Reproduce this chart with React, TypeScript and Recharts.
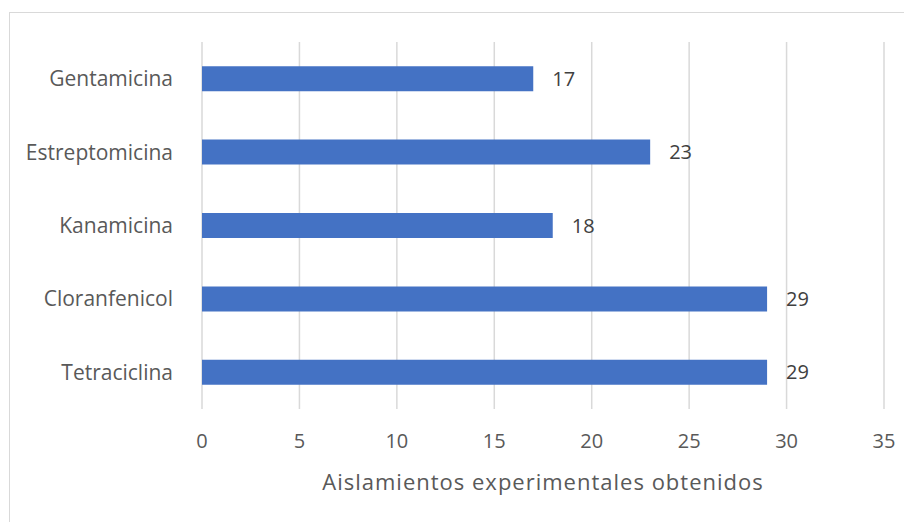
import { BarChart, Bar, XAxis, YAxis, CartesianGrid, LabelList, Label } from "recharts";

const antibiotics = ["Gentamicina", "Estreptomicina", "Kanamicina", "Cloranfenicol", "Tetraciclina"];
const isolates = [17, 23, 18, 29, 29];
const xTicks = [0, 5, 10, 15, 20, 25, 30, 35];

const data = antibiotics.map((name, i) => ({ name, value: isolates[i] }));

const FONT = "'Open Sans', 'Liberation Sans', sans-serif";

export default function App() {
  return (
    <div style={{ position: "relative", width: 904, height: 514, overflow: "hidden", background: "#fff" }}>
      {/* chart frame: only top and left edges are inside the view */}
      <div
        style={{
          position: "absolute",
          left: 1,
          top: 4,
          width: 1000,
          height: 600,
          borderTop: "1px solid #d9d9d9",
          borderLeft: "1px solid #d9d9d9",
        }}
      />
      <div style={{ position: "absolute", left: 0, top: 0 }}>
        <BarChart
          width={904}
          height={514}
          data={data}
          layout="vertical"
          margin={{ top: 34, right: 28, bottom: 0, left: 0 }}
          barCategoryGap="33%"
        >
          <CartesianGrid horizontal={false} stroke="#d9d9d9" strokeWidth={1.5} />
          <XAxis
            type="number"
            domain={[0, 35]}
            ticks={xTicks}
            axisLine={false}
            tickLine={false}
            tickSize={0}
            tickMargin={25}
            height={113}
            tick={{ fill: "#595959", fontSize: 20, fontFamily: FONT }}
          >
            <Label
              value="Aislamientos experimentales obtenidos"
              position="insideBottom"
              offset={32}
              style={{ fill: "#595959", fontSize: 22, fontFamily: FONT, letterSpacing: 1 }}
            />
          </XAxis>
          <YAxis
            type="category"
            dataKey="name"
            width={194}
            axisLine={false}
            tickLine={false}
            tickSize={0}
            tickMargin={29}
            tick={{ fill: "#595959", fontSize: 21, fontFamily: FONT }}
          />
          <Bar dataKey="value" fill="#4472C4" isAnimationActive={false}>
            <LabelList
              dataKey="value"
              position="right"
              offset={19}
              style={{ fill: "#404040", fontSize: 20, fontFamily: FONT }}
            />
          </Bar>
        </BarChart>
      </div>
    </div>
  );
}
